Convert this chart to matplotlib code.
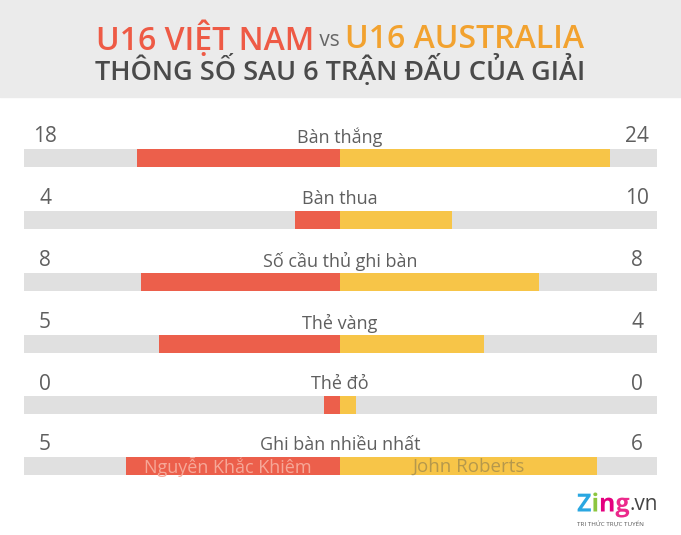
import numpy as np
from matplotlib import pyplot as plt
from matplotlib.patches import Rectangle
import matplotlib.patheffects as pe

# row labels and the numbers shown at each side
categories = ["Bàn thắng", "Bàn thua", "Số cầu thủ ghi bàn", "Thẻ vàng", "Thẻ đỏ", "Ghi bàn nhiều nhất"]
vn_values = ["18", "4", "8", "5", "0", "5"]
au_values = ["24", "10", "8", "4", "0", "6"]
# bar lengths as drawn (each row has its own scale), in half-track units (0..1)
vn_bar = [0.642, 0.142, 0.630, 0.573, 0.051, 0.677]
au_bar = [0.855, 0.353, 0.631, 0.457, 0.051, 0.814]
inner_vn = ["", "", "", "", "", "Nguyễn Khắc Khiêm"]
inner_au = ["", "", "", "", "", "John Roberts"]

RED = "#EC5F4B"
YELLOW = "#F7C548"
TRACK = "#E0E0E0"
TXT = "#5f5f5f"

plt.rcParams['font.family'] = ['Open Sans', 'DejaVu Sans']

fig = plt.figure(figsize=(6.81, 5.35), dpi=100)
fig.patch.set_facecolor("white")
ax = fig.add_axes([0, 0, 1, 1])
ax.set_xlim(0, 681)
ax.set_ylim(535, 0)
ax.axis("off")

# header band
ax.add_patch(Rectangle((0, 0), 681, 97, color="#EBEBEB", zorder=0))
# title line 1 built from three pieces
parts = [("U16 VIỆT NAM", "#EE5A45", 23, 600), (" vs ", "#666666", 15, 500), ("U16 AUSTRALIA", "#F2A22F", 23, 600)]
fig.canvas.draw()
r = fig.canvas.get_renderer()
objs = []
for s, c, fs, w in parts:
    o = ax.text(0, 40, s, color=c, fontsize=fs, fontweight=w, ha="left", va="center")
    objs.append(o)
widths = [o.get_window_extent(r).width for o in objs]
x = 340 - sum(widths) / 2
for o, wd in zip(objs, widths):
    o.set_x(x)
    x += wd
ax.text(340, 71, "THÔNG SỐ SAU 6 TRẬN ĐẤU CỦA GIẢI", color="#4a4a4a", fontsize=19.5,
        fontweight=600, ha="center", va="center")

center = 340
half = 316
track_y = np.array([158, 220, 282, 344, 405, 466])
label_y = track_y - 21
h = 18

ax.barh(track_y, 2 * half + 1, left=center - half, height=h, color=TRACK, zorder=1)
ax.barh(track_y, -np.array(vn_bar) * half, left=center, height=h, color=RED, zorder=2)
ax.barh(track_y, np.array(au_bar) * half, left=center, height=h, color=YELLOW, zorder=2)

for i in range(len(categories)):
    ax.text(center, label_y[i], categories[i], ha="center", va="center", fontsize=13, color=TXT)
    ax.text(45, label_y[i], vn_values[i], ha="center", va="center", fontsize=15, color=TXT)
    ax.text(637, label_y[i], au_values[i], ha="center", va="center", fontsize=15, color=TXT)
    if inner_vn[i]:
        ax.text(center - vn_bar[i] * half / 2 - 5, track_y[i] + 1, inner_vn[i], ha="center", va="center",
                fontsize=13, color="#F6A898", zorder=3)
    if inner_au[i]:
        ax.text(center + au_bar[i] * half / 2, track_y[i] + 1, inner_au[i], ha="center", va="center",
                fontsize=13.5, color="#B5984C", zorder=3)

# logo
stroke = [pe.withStroke(linewidth=3, foreground="white")]
lx = 577
for ch, c in [("Z", "#2AA7E1"), ("i", "#8CC63F"), ("n", "#E4007F"), ("g", "#EC2A8C")]:
    o = ax.text(lx, 505, ch, color=c, fontsize=18, fontweight="bold", ha="left", va="center",
                path_effects=stroke, zorder=4)
    lx += o.get_window_extent(r).width
ax.text(lx, 505, ".vn", color="#444444", fontsize=15, ha="left", va="center", zorder=4)
ax.text(577, 524, "TRI THỨC TRỰC TUYẾN", color="#555555", fontsize=4.5, ha="left", va="center")

fig.savefig("out.png", dpi=100)
